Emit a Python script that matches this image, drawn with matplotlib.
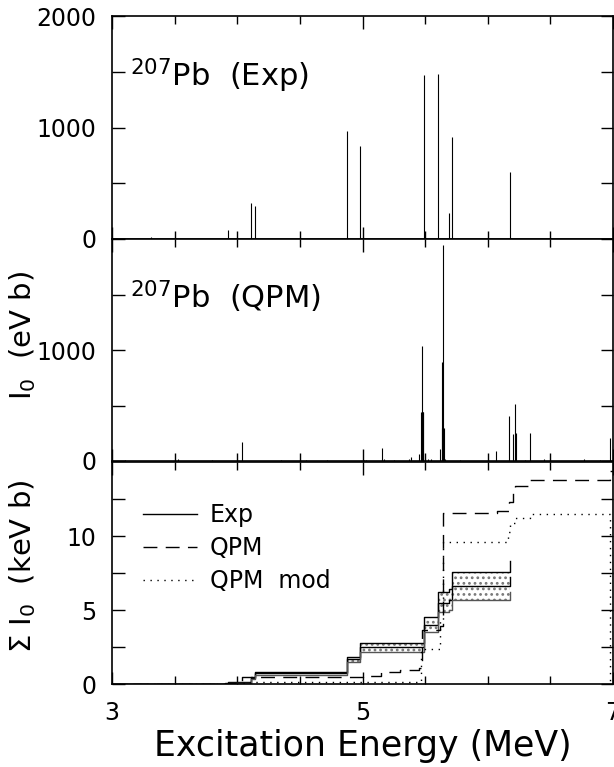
import numpy as np
import matplotlib.pyplot as plt

plt.rcParams['font.family'] = ['DejaVu Sans']
plt.rcParams['mathtext.default'] = 'regular'
plt.rcParams['hatch.linewidth'] = 1.2
plt.rcParams['hatch.color'] = '#666666'

# --- experimental strengths (eV b) ---
e_exp = [3.31, 3.93, 4.107, 4.142, 4.874, 4.98, 5.49, 5.60, 5.69, 5.717, 6.18]
i_exp = [15, 80, 320, 295, 967, 833, 1472, 1478, 236, 916, 597]

# --- QPM strengths (eV b) ---
e_qpm = [3.10, 3.53, 3.80, 4.04, 4.35, 4.55, 4.72, 5.01, 5.03, 5.153, 5.17, 5.25,
         5.37, 5.39, 5.455, 5.468, 5.472, 5.476, 5.480, 5.484, 5.50, 5.52, 5.55,
         5.62, 5.632, 5.636, 5.640, 5.641, 5.644, 5.648, 5.66, 5.78, 6.066, 6.17,
         6.20, 6.217, 6.222, 6.30, 6.34, 6.45, 6.77, 6.90, 6.98]
i_qpm = [8, 15, 6, 168, 6, 8, 6, 10, 10, 117, 15, 8,
         15, 40, 60, 445, 445, 1040, 445, 445, 20, 15, 15,
         105, 295, 896, 295, 1950, 295, 295, 15, 5, 93, 406,
         240, 514, 255, 10, 250, 15, 20, 6, 207]

# --- cumulative sums (keV b), step functions ---
e_sum_exp = [3.0, 3.31, 3.93, 4.107, 4.142, 4.874, 4.98, 5.49, 5.60, 5.69, 5.717, 6.18]
sum_exp = [0, 0.015, 0.095, 0.415, 0.71, 1.68, 2.5, 3.98, 5.45, 5.69, 6.62, 7.2]
sum_exp_lo = [0, 0.01, 0.08, 0.36, 0.61, 1.47, 2.17, 3.49, 4.84, 5.0, 5.68, 6.2]
sum_exp_hi = [0, 0.02, 0.11, 0.47, 0.80, 1.85, 2.80, 4.5, 6.2, 6.4, 7.59, 8.33]

e_sum_qpm = [3.0, 3.53, 3.9, 4.04, 5.0, 5.15, 5.3, 5.45, 5.475, 5.62, 5.645,
             6.07, 6.17, 6.2, 6.22, 6.34, 6.98, 7.0]
sum_qpm = [0, 0.03, 0.06, 0.5, 0.55, 0.83, 0.95, 1.1, 3.65, 3.9, 11.55,
           11.7, 12.3, 12.9, 13.4, 13.8, 14.4, 14.4]

e_sum_mod = [3.0, 4.04, 4.1, 5.47, 5.62, 5.645, 6.16, 6.18, 6.22, 6.34, 6.98, 7.0]
sum_mod = [0, 0.05, 0.15, 2.35, 4.3, 9.6, 10.3, 10.9, 11.2, 11.5, 0, 0]

fig = plt.figure(figsize=(6.14, 7.67), dpi=100)
L, W = 112/614, 501/614
ax1 = fig.add_axes([L, 1-239/767, W, 223/767])
ax2 = fig.add_axes([L, 1-461/767, W, 222/767])
ax3 = fig.add_axes([L, 1-684/767, W, 222/767])

for ax in (ax1, ax2, ax3):
    ax.set_xlim(3, 7)
    ax.set_xticks([3, 5, 7])
    ax.set_xticks(np.arange(3, 7.01, 0.5), minor=True)
    ax.tick_params(which='both', direction='in', top=True, right=True,
                   labelsize=17, width=1.0)
    ax.tick_params(which='major', length=9)
    ax.tick_params(which='minor', length=6)
    ax.tick_params(axis='y', pad=11)
    ax.tick_params(axis='x', pad=12)
    for s in ax.spines.values():
        s.set_linewidth(1.2)

for ax in (ax1, ax2):
    ax.set_ylim(0, 2000)
    ax.set_yticks([0, 1000, 2000])
    ax.set_yticks([500, 1500], minor=True)
    ax.tick_params(axis='y', which='minor', length=9)
    ax.tick_params(labelbottom=False)
ax2.set_yticks([0, 1000])
ax2.set_yticks([500, 1500, 2000], minor=True)

ax1.vlines(e_exp, 0, i_exp, color='black', lw=0.8)
ax2.vlines(e_qpm, 0, i_qpm, color='black', lw=0.8)

ax1.text(0.035, 0.686, '$^{207}$Pb  (Exp)', transform=ax1.transAxes, fontsize=22)
ax2.text(0.035, 0.686, '$^{207}$Pb  (QPM)', transform=ax2.transAxes, fontsize=22)

# bottom: cumulative
ax3.set_ylim(0, 15)
ax3.set_yticks([0, 5, 10])
ax3.set_yticks([2.5, 7.5, 12.5], minor=True)
ax3.tick_params(axis='y', which='minor', length=9)

ax3.fill_between(e_sum_exp, sum_exp_lo, sum_exp_hi, step='post',
                 facecolor='none', edgecolor='#777777', hatch='...', lw=0)
ax3.step(e_sum_exp, sum_exp_hi, where='post', color='black', lw=1.0)
ax3.step(e_sum_exp, sum_exp, where='post', color='black', lw=1.0, label='Exp')
ax3.step(e_sum_exp, sum_exp_lo, where='post', color='#555555', lw=1.0)
ax3.step(e_sum_qpm, sum_qpm, where='post', color='black', lw=1.0,
         dashes=[10, 6], label='QPM')
ax3.step(e_sum_mod, sum_mod, where='post', color='black', lw=1.0,
         dashes=[1, 4], label='QPM  mod')

ax3.legend(loc='upper left', bbox_to_anchor=(0.061, 0.815), frameon=False,
           fontsize=17, handlelength=2.3, handletextpad=0.55,
           labelspacing=0.38, borderaxespad=0, borderpad=0)

fig.text(0.036, 0.562, 'I$_0$  (eV b)', rotation=90, ha='center', va='center',
         fontsize=21)
fig.text(0.036, 0.262, 'Σ I$_0$  (keV b)', rotation=90, ha='center', va='center',
         fontsize=21)
ax3.set_xlabel('Excitation Energy (MeV)', fontsize=25, labelpad=3)

fig.savefig('out.png', dpi=100)
